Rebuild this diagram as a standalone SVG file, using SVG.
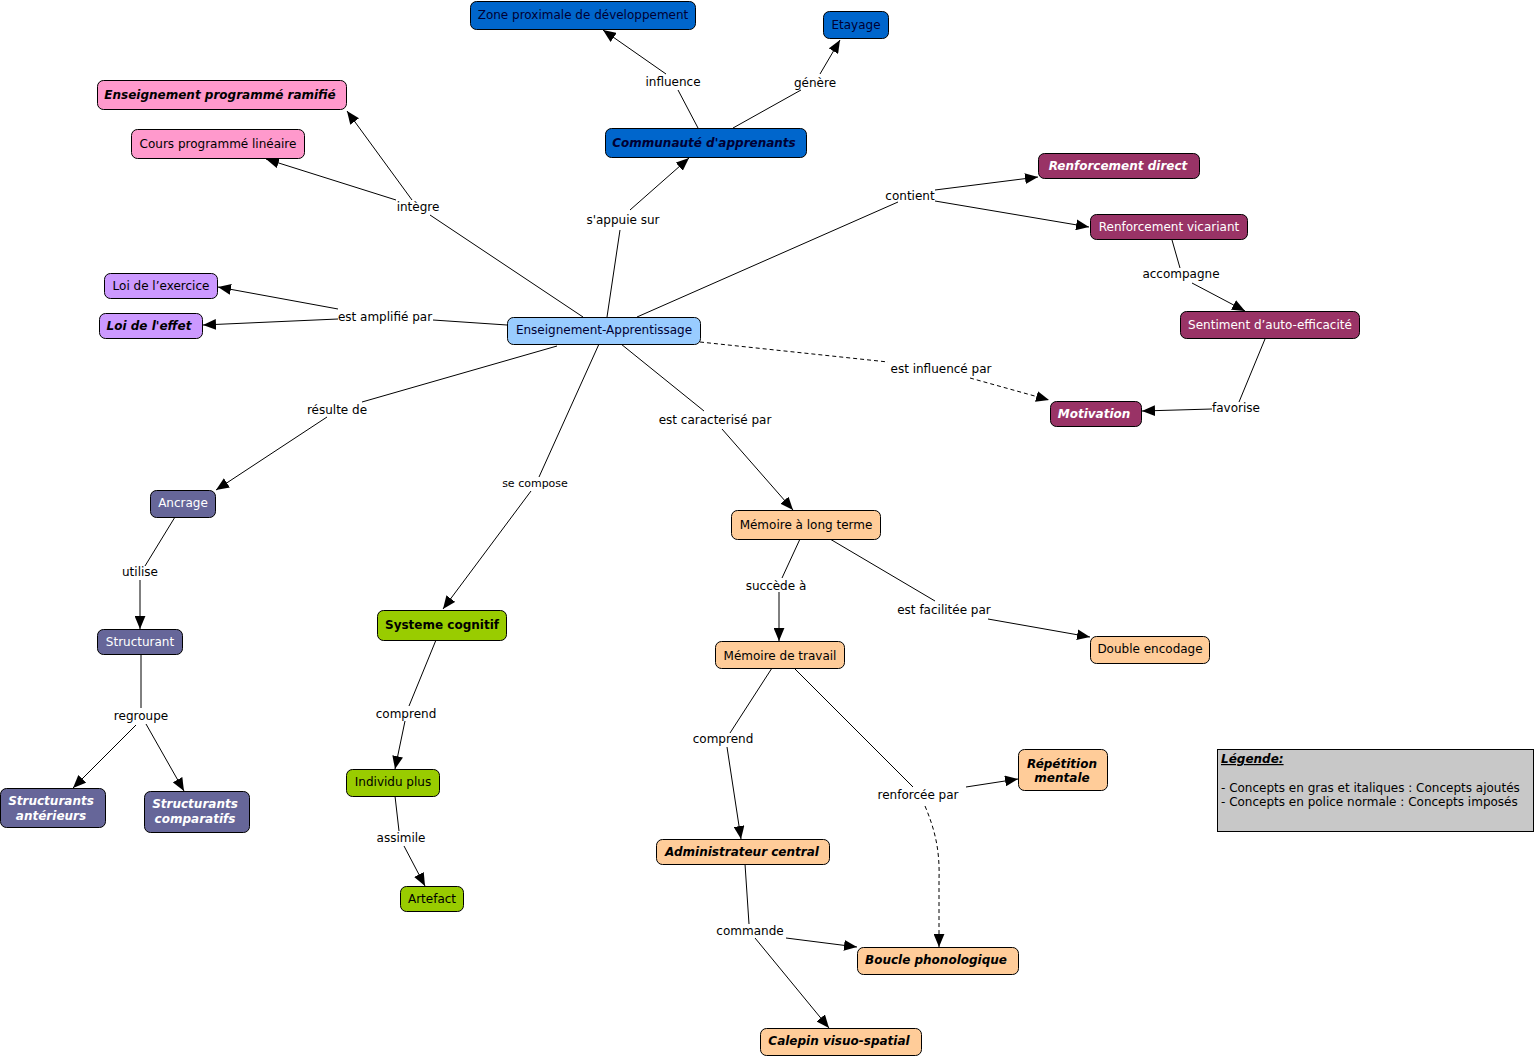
<svg xmlns="http://www.w3.org/2000/svg" width="1535" height="1058" viewBox="0 0 1535 1058">
<defs>
<marker id="arr" viewBox="0 0 12 10" refX="12" refY="5" markerWidth="13" markerHeight="11" markerUnits="userSpaceOnUse" orient="auto">
<path d="M0,0 L12,5 L0,10 z" fill="#000"/>
</marker>
<style>
text{font-family:"DejaVu Sans","Verdana",sans-serif;font-size:12px;}
.n rect{stroke:#000;stroke-width:1;}
.t{text-anchor:middle;}
.bi{font-weight:bold;font-style:italic;}
.b{font-weight:bold;}
.blue rect{fill:#0066cc;} .blue text{fill:#000033;}
.pink rect{fill:#ff99cc;} .pink text{fill:#000;}
.purp rect{fill:#cc99ff;} .purp text{fill:#000;}
.lb rect{fill:#99ccff;} .lb text{fill:#000033;}
.wine rect{fill:#993366;} .wine text{fill:#fff;}
.slate rect{fill:#666699;} .slate text{fill:#fff;}
.green rect{fill:#99cc00;} .green text{fill:#000;}
.org rect{fill:#ffcc99;} .org text{fill:#000;}
.c line,.c path{stroke:#000;stroke-width:1;fill:none;}
.c .d{stroke-dasharray:4,3;}
.lab{text-anchor:middle;fill:#000;}
</style>
</defs>
<rect width="1535" height="1058" fill="#fff"/>

<g id="connectors" class="c">
<!-- s'appuie sur -->
<line x1="607" y1="317" x2="620" y2="230"/>
<line x1="630" y1="210" x2="689" y2="158" marker-end="url(#arr)"/>
<!-- influence -->
<line x1="698" y1="128" x2="678" y2="90"/>
<line x1="666" y1="74" x2="603" y2="30" marker-end="url(#arr)"/>
<!-- génère -->
<line x1="733" y1="128" x2="801" y2="90"/>
<line x1="820" y1="74" x2="840" y2="40" marker-end="url(#arr)"/>
<!-- intègre -->
<line x1="583" y1="317" x2="430" y2="215"/>
<line x1="396" y1="200" x2="266" y2="159" marker-end="url(#arr)"/>
<line x1="412" y1="200" x2="347" y2="111" marker-end="url(#arr)"/>
<!-- est amplifié par -->
<line x1="507" y1="325" x2="433" y2="320"/>
<line x1="338" y1="309" x2="218" y2="287" marker-end="url(#arr)"/>
<line x1="338" y1="319" x2="203" y2="325" marker-end="url(#arr)"/>
<!-- contient -->
<line x1="637" y1="317" x2="898" y2="202"/>
<line x1="935" y1="190" x2="1038" y2="177" marker-end="url(#arr)"/>
<line x1="935" y1="201" x2="1089" y2="227" marker-end="url(#arr)"/>
<!-- accompagne -->
<line x1="1172" y1="240" x2="1180" y2="268"/>
<line x1="1192" y1="283" x2="1245" y2="311" marker-end="url(#arr)"/>
<!-- favorise -->
<line x1="1265" y1="339" x2="1239" y2="402"/>
<line x1="1212" y1="409" x2="1142" y2="411" marker-end="url(#arr)"/>
<!-- est influencé par -->
<line class="d" x1="700" y1="342" x2="888" y2="362"/>
<line class="d" x1="970" y1="378" x2="1049" y2="400" marker-end="url(#arr)"/>
<!-- résulte de -->
<line x1="557" y1="346" x2="362" y2="402"/>
<line x1="327" y1="417" x2="216" y2="490" marker-end="url(#arr)"/>
<!-- utilise -->
<line x1="175" y1="517" x2="145" y2="566"/>
<line x1="140" y1="580" x2="140" y2="629" marker-end="url(#arr)"/>
<!-- regroupe -->
<line x1="141" y1="654" x2="141" y2="708"/>
<line x1="136" y1="725" x2="73" y2="788" marker-end="url(#arr)"/>
<line x1="146" y1="724" x2="184" y2="791" marker-end="url(#arr)"/>
<!-- se compose -->
<line x1="599" y1="344" x2="539" y2="477"/>
<line x1="531" y1="491" x2="443" y2="609" marker-end="url(#arr)"/>
<!-- comprend (systeme) -->
<line x1="436" y1="640" x2="409" y2="706"/>
<line x1="405" y1="721" x2="395" y2="769" marker-end="url(#arr)"/>
<!-- assimile -->
<line x1="395" y1="796" x2="399" y2="831"/>
<line x1="404" y1="846" x2="425" y2="886" marker-end="url(#arr)"/>
<!-- est caracterisé par -->
<line x1="621" y1="344" x2="704" y2="411"/>
<line x1="722" y1="429" x2="793" y2="510" marker-end="url(#arr)"/>
<!-- succède à -->
<line x1="800" y1="539" x2="782" y2="578"/>
<line x1="779" y1="592" x2="779" y2="641" marker-end="url(#arr)"/>
<!-- est facilitée par -->
<line x1="830" y1="539" x2="935" y2="601"/>
<line x1="988" y1="619" x2="1090" y2="637" marker-end="url(#arr)"/>
<!-- comprend (MdT) -->
<line x1="772" y1="668" x2="730" y2="733"/>
<line x1="727" y1="747" x2="741" y2="839" marker-end="url(#arr)"/>
<!-- renforcée par -->
<line x1="794" y1="668" x2="913" y2="787"/>
<line x1="966" y1="787" x2="1018" y2="779" marker-end="url(#arr)"/>
<path class="d" d="M925,806 C935,830 940,850 939,880 L939,947" marker-end="url(#arr)"/>
<!-- commande -->
<line x1="745" y1="864" x2="749" y2="924"/>
<line x1="786" y1="938" x2="857" y2="947" marker-end="url(#arr)"/>
<line x1="755" y1="938" x2="829" y2="1028" marker-end="url(#arr)"/>
</g>

<g id="labels">
<text class="lab" x="623" y="224">s'appuie sur</text>
<text class="lab" x="673" y="86">influence</text>
<text class="lab" x="815" y="87">génère</text>
<text class="lab" x="418" y="211">intègre</text>
<text class="lab" x="385" y="321">est amplifié par</text>
<text class="lab" x="910" y="200">contient</text>
<text class="lab" x="1181" y="278">accompagne</text>
<text class="lab" x="1236" y="412">favorise</text>
<text class="lab" x="941" y="373">est influencé par</text>
<text class="lab" x="337" y="414">résulte de</text>
<text class="lab" x="140" y="576">utilise</text>
<text class="lab" x="141" y="720">regroupe</text>
<text class="lab" x="535" y="487" style="font-size:11px">se compose</text>
<text class="lab" x="406" y="718">comprend</text>
<text class="lab" x="401" y="842">assimile</text>
<text class="lab" x="715" y="424">est caracterisé par</text>
<text class="lab" x="776" y="590">succède à</text>
<text class="lab" x="944" y="614">est facilitée par</text>
<text class="lab" x="723" y="743">comprend</text>
<text class="lab" x="918" y="799">renforcée par</text>
<text class="lab" x="750" y="935">commande</text>
</g>

<g id="zone" class="n blue"><rect x="470.5" y="1.5" width="225" height="28" rx="6"/><text class="t" x="583" y="19">Zone proximale de développement</text></g>
<g id="etayage" class="n blue"><rect x="823.5" y="11.5" width="65" height="27" rx="6"/><text class="t" x="856" y="29">Etayage</text></g>
<g id="communaute" class="n blue"><rect x="605.5" y="128.5" width="201" height="29" rx="6"/><text class="t bi" x="704" y="147">Communauté d'apprenants</text></g>
<g id="ramifie" class="n pink"><rect x="97.5" y="80.5" width="249" height="29" rx="6"/><text class="t bi" x="220" y="99">Enseignement programmé ramifié</text></g>
<g id="lineaire" class="n pink"><rect x="131.5" y="129.5" width="173" height="29" rx="6"/><text class="t" x="218" y="148">Cours programmé linéaire</text></g>
<g id="exercice" class="n purp"><rect x="104.5" y="273.5" width="113" height="25" rx="6"/><text class="t" x="161" y="290">Loi de l’exercice</text></g>
<g id="effet" class="n purp"><rect x="99.5" y="313.5" width="103" height="25" rx="6"/><text class="t bi" x="149" y="330">Loi de l'effet</text></g>
<g id="ea" class="n lb"><rect x="507.5" y="317.5" width="193" height="27" rx="6"/><text class="t" x="604" y="334">Enseignement-Apprentissage</text></g>
<g id="rdirect" class="n wine"><rect x="1038.5" y="153.5" width="161" height="25" rx="6"/><text class="t bi" x="1118" y="170">Renforcement direct</text></g>
<g id="rvicariant" class="n wine"><rect x="1090.5" y="214.5" width="157" height="25" rx="6"/><text class="t" x="1169" y="231">Renforcement vicariant</text></g>
<g id="sentiment" class="n wine"><rect x="1180.5" y="311.5" width="179" height="27" rx="6"/><text class="t" x="1270" y="329">Sentiment d’auto-efficacité</text></g>
<g id="motivation" class="n wine"><rect x="1050.5" y="401.5" width="91" height="25" rx="6"/><text class="t bi" x="1094" y="418">Motivation</text></g>
<g id="ancrage" class="n slate"><rect x="150.5" y="490.5" width="65" height="27" rx="6"/><text class="t" x="183" y="507">Ancrage</text></g>
<g id="structurant" class="n slate"><rect x="97.5" y="629.5" width="85" height="25" rx="6"/><text class="t" x="140" y="646">Structurant</text></g>
<g id="anterieurs" class="n slate"><rect x="0.5" y="788.5" width="105" height="39" rx="6"/><text class="t bi" x="51" y="805">Structurants</text><text class="t bi" x="51" y="820">antérieurs</text></g>
<g id="comparatifs" class="n slate"><rect x="144.5" y="791.5" width="105" height="41" rx="6"/><text class="t bi" x="195" y="808">Structurants</text><text class="t bi" x="195" y="823">comparatifs</text></g>
<g id="systeme" class="n green"><rect x="377.5" y="610.5" width="129" height="30" rx="6"/><text class="t b" x="442" y="629">Systeme cognitif</text></g>
<g id="individu" class="n green"><rect x="346.5" y="769.5" width="93" height="27" rx="6"/><text class="t" x="393" y="786">Individu plus</text></g>
<g id="artefact" class="n green"><rect x="400.5" y="886.5" width="63" height="25" rx="6"/><text class="t" x="432" y="903">Artefact</text></g>
<g id="mlt" class="n org"><rect x="731.5" y="510.5" width="149" height="29" rx="6"/><text class="t" x="806" y="529">Mémoire à long terme</text></g>
<g id="mdt" class="n org"><rect x="715.5" y="641.5" width="129" height="27" rx="6"/><text class="t" x="780" y="660">Mémoire de travail</text></g>
<g id="double" class="n org"><rect x="1090.5" y="636.5" width="119" height="27" rx="6"/><text class="t" x="1150" y="653">Double encodage</text></g>
<g id="repetition" class="n org"><rect x="1018.5" y="749.5" width="89" height="41" rx="6"/><text class="t bi" x="1062" y="768">Répétition</text><text class="t bi" x="1062" y="782">mentale</text></g>
<g id="admin" class="n org"><rect x="656.5" y="839.5" width="173" height="25" rx="6"/><text class="t bi" x="742" y="856">Administrateur central</text></g>
<g id="boucle" class="n org"><rect x="857.5" y="947.5" width="161" height="27" rx="6"/><text class="t bi" x="936" y="964">Boucle phonologique</text></g>
<g id="calepin" class="n org"><rect x="760.5" y="1028.5" width="161" height="27" rx="6"/><text class="t bi" x="839" y="1045">Calepin visuo-spatial</text></g>

<g id="legende">
<rect x="1217.5" y="749.5" width="316" height="82" fill="#c8c8c8" stroke="#000" stroke-width="1"/>
<text x="1221" y="763" class="bi" style="text-decoration:underline">Légende:</text>
<text x="1221" y="792">- Concepts en gras et italiques : Concepts ajoutés</text>
<text x="1221" y="806">- Concepts en police normale : Concepts imposés</text>
</g>
</svg>
